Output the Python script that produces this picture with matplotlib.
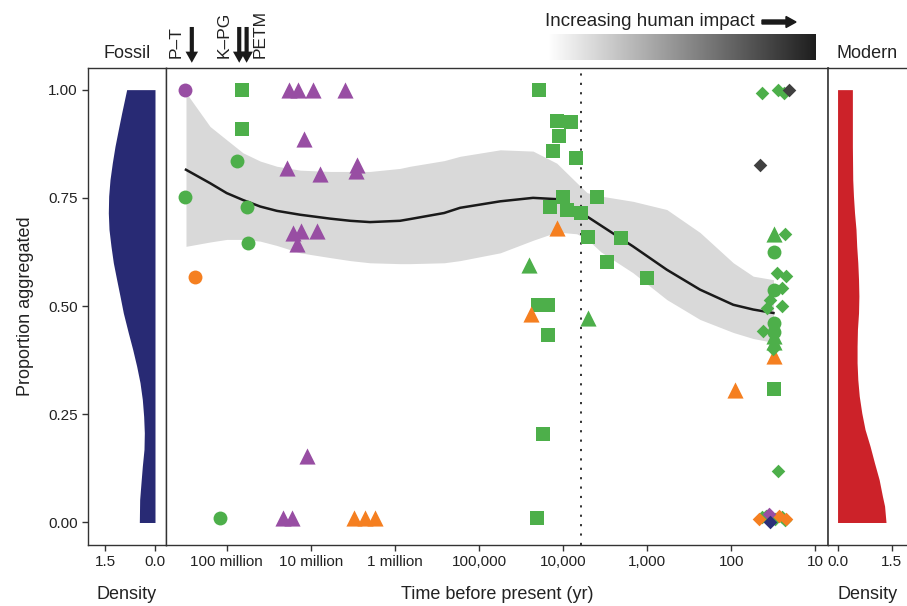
import numpy as np
import matplotlib.pyplot as plt
import matplotlib.transforms as mtransforms
from matplotlib.colors import LinearSegmentedColormap
from matplotlib.patches import FancyArrow

plt.rcParams['font.family'] = ['Liberation Sans', 'DejaVu Sans']

GREEN = '#4DAF4A'
PURPLE = '#984EA3'
ORANGE = '#F57F20'
DARK = '#404040'
NAVY = '#2B2F7A'
INK = '#222222'

# ---- data: (years before present, proportion aggregated) ----
circ_purple_t = [3.1e8]
circ_purple_y = [1.0]
circ_orange_t = [2.4e8]
circ_orange_y = [0.566]
circ_green_t = [3.1e8, 7.5e7, 5.7e7, 5.6e7, 1.2e8, 31, 31, 31, 31]
circ_green_y = [0.752, 0.834, 0.729, 0.646, 0.01, 0.626, 0.536, 0.461, 0.441]

sq_green_t = [6.6e7, 6.6e7, 19200, 11900, 8060, 11100, 13100, 6970, 9950, 3980,
              14200, 9060, 6080, 5010, 2030, 2990, 1000, 19800, 15200, 15000,
              17300, 20400, 31]
sq_green_y = [1.0, 0.908, 1.0, 0.927, 0.925, 0.894, 0.859, 0.842, 0.753, 0.753,
              0.729, 0.722, 0.715, 0.66, 0.657, 0.602, 0.565, 0.502, 0.502, 0.433,
              0.205, 0.01, 0.309]

tri_purple_t = [1.8e7, 1.41e7, 9.3e6, 3.9e6, 1.2e7, 1.94e7, 7.8e6, 2.85e6, 2.9e6,
                1.64e7, 1.31e7, 8.5e6, 1.47e7, 1.11e7, 2.16e7, 1.69e7]
tri_purple_y = [1.0, 1.0, 1.0, 1.0, 0.887, 0.818, 0.805, 0.826, 0.812,
                0.669, 0.673, 0.673, 0.644, 0.153, 0.01, 0.01]
tri_orange_t = [3.1e6, 2.27e6, 1.73e6, 11900, 24300, 90, 31]
tri_orange_y = [0.01, 0.01, 0.01, 0.68, 0.482, 0.306, 0.384]
tri_green_t = [25200, 5010, 31, 31, 31]
tri_green_y = [0.596, 0.473, 0.667, 0.43, 0.416]

dia_green_t = [43, 27.6, 23.6, 23, 28.8, 22.4, 25.1, 34.7, 25, 37.9, 41.7, 31.6, 27.6,
               43.5, 38.6, 30.5, 25.0, 23.3]
dia_green_y = [0.992, 1.0, 0.992, 0.667, 0.577, 0.570, 0.542, 0.515, 0.50, 0.496, 0.442,
               0.40, 0.12, 0.012, 0.014, 0.008, 0.012, 0.006]
dia_orange_t = [46.6, 26.9, 22.2]
dia_orange_y = [0.007, 0.016, 0.009]
dia_purple_t = [35.9]
dia_purple_y = [0.02]
dia_navy_t = [35.0]
dia_navy_y = [0.0]
dia_dark_t = [20.4, 46]
dia_dark_y = [1.0, 0.827]

# smoothed trend with confidence band
fit_t = [3.05e8, 1.58e8, 1e8, 6.4e7, 4.0e7, 2.54e7, 1.34e7, 5.9e6, 3.4e6, 1.98e6,
         8.7e5, 6.6e5, 2.6e5, 1.68e5, 5.6e4, 2.28e4, 1.19e4, 6.9e3, 5.2e3, 3.55e3,
         1.48e3, 586, 236, 95, 55, 31.6]
fit_y = [0.815, 0.784, 0.761, 0.745, 0.730, 0.720, 0.711, 0.702, 0.697, 0.694,
         0.697, 0.701, 0.715, 0.727, 0.742, 0.750, 0.747, 0.725, 0.707, 0.686,
         0.638, 0.584, 0.538, 0.503, 0.492, 0.484]
fit_hi = [0.993, 0.915, 0.884, 0.854, 0.835, 0.823, 0.814, 0.811, 0.811, 0.811,
          0.818, 0.823, 0.836, 0.846, 0.861, 0.858, 0.830, 0.785, 0.762, 0.754,
          0.742, 0.723, 0.670, 0.600, 0.569, 0.561]
fit_lo = [0.638, 0.648, 0.654, 0.654, 0.650, 0.640, 0.623, 0.612, 0.605, 0.600,
          0.598, 0.598, 0.600, 0.605, 0.623, 0.652, 0.671, 0.667, 0.655, 0.625,
          0.577, 0.515, 0.469, 0.439, 0.425, 0.416]

# density profiles
fossil_y = [1.0, 0.946, 0.908, 0.869, 0.831, 0.792, 0.754, 0.715, 0.677, 0.638,
            0.60, 0.561, 0.523, 0.484, 0.438, 0.40, 0.361, 0.323, 0.284, 0.245,
            0.207, 0.169, 0.130, 0.092, 0.053, 0.0]
fossil_d = [0.85, 1.00, 1.10, 1.20, 1.28, 1.35, 1.39, 1.40, 1.38, 1.32,
            1.25, 1.15, 1.05, 0.95, 0.80, 0.67, 0.55, 0.45, 0.38, 0.34,
            0.32, 0.33, 0.38, 0.42, 0.46, 0.47]
modern_y = [1.0, 0.946, 0.869, 0.792, 0.754, 0.715, 0.677, 0.638, 0.60, 0.561,
            0.523, 0.484, 0.446, 0.407, 0.369, 0.330, 0.292, 0.253, 0.215, 0.176,
            0.138, 0.099, 0.061, 0.038, 0.0]
modern_d = [0.41, 0.41, 0.41, 0.42, 0.44, 0.47, 0.51, 0.53, 0.56, 0.58,
            0.59, 0.58, 0.55, 0.54, 0.54, 0.56, 0.60, 0.67, 0.76, 0.90,
            1.02, 1.15, 1.24, 1.30, 1.34]

time_ticks = [1e8, 1e7, 1e6, 1e5, 1e4, 1e3, 1e2, 1e1]
time_labels = ['100 million', '10 million', '1 million', '100,000', '10,000',
               '1,000', '100', '10']
y_ticks = [0, 0.25, 0.5, 0.75, 1.0]
y_labels = ['0.00', '0.25', '0.50', '0.75', '1.00']
holocene_line = 6100
events = [('P\u2013T', 4.0e8), ('K\u2013PG', 1.08e8), ('PETM', 4.0e7)]
event_arrows = [2.6e8, 7.1e7, 5.8e7]

W, H = 907, 606
fig = plt.figure(figsize=(W / 100, H / 100), dpi=100)


def box(x0, y0, x1, y1):
    return [x0 / W, 1 - y1 / H, (x1 - x0) / W, (y1 - y0) / H]


ax_l = fig.add_axes(box(88, 68, 166, 545))
ax_m = fig.add_axes(box(166, 68, 828, 545))
ax_r = fig.add_axes(box(828, 68, 907, 545))

for ax in (ax_l, ax_m, ax_r):
    for s in ax.spines.values():
        s.set_color('#333333')
        s.set_linewidth(1.0)
    ax.tick_params(colors='#333333', labelcolor=INK, labelsize=11, length=4, width=1.0)
    ax.set_ylim(-0.052, 1.05)

# left: fossil density
ax_l.fill_betweenx(fossil_y, 0, fossil_d, color='#282A74', lw=0)
ax_l.set_xlim(2.01, -0.33)
ax_l.set_xticks([1.5, 0.0])
ax_l.set_xticklabels(['1.5', '0.0'])
ax_l.set_yticks(y_ticks)
ax_l.set_yticklabels(y_labels)
ax_l.set_ylabel('Proportion aggregated', fontsize=13, color=INK, labelpad=10)
ax_l.set_xlabel('Density', fontsize=13, color=INK, labelpad=12)
ax_l.set_title('Fossil', fontsize=13, color=INK, pad=7)

# right: modern density
ax_r.fill_betweenx(modern_y, 0, modern_d, color='#CC2229', lw=0)
ax_r.set_xlim(-0.264, 1.92)
ax_r.set_xticks([0.0, 1.5])
ax_r.set_xticklabels(['0.0', '1.5'])
ax_r.tick_params(left=False, labelleft=False)
ax_r.spines['right'].set_visible(False)
ax_r.spines['left'].set_linewidth(1.2)
ax_r.set_xlabel('Density', fontsize=13, color=INK, labelpad=12)
ax_r.set_title('Modern', fontsize=13, color=INK, pad=7)

# main panel
ax_m.set_xscale('log')
ax_m.set_xlim(5.27e8, 7.1)
ax_m.fill_between(fit_t, fit_lo, fit_hi, color='#D9D9D9', lw=0, zorder=1)
ax_m.plot(fit_t, fit_y, color='#1a1a1a', lw=1.8, zorder=2)
ax_m.axvline(holocene_line, color='#222222', lw=1.3, ls=(0, (1.2, 4)), zorder=1.5)

groups = [
    (circ_purple_t, circ_purple_y, 'o', PURPLE, 100),
    (circ_green_t, circ_green_y, 'o', GREEN, 100),
    (circ_orange_t, circ_orange_y, 'o', ORANGE, 100),
    (sq_green_t, sq_green_y, 's', GREEN, 110),
    (tri_purple_t, tri_purple_y, '^', PURPLE, 135),
    (tri_orange_t, tri_orange_y, '^', ORANGE, 135),
    (tri_green_t, tri_green_y, '^', GREEN, 135),
    (dia_green_t, dia_green_y, 'D', GREEN, 48),
    (dia_orange_t, dia_orange_y, 'D', ORANGE, 48),
    (dia_purple_t, dia_purple_y, 'D', PURPLE, 48),
    (dia_navy_t, dia_navy_y, 'D', NAVY, 48),
    (dia_dark_t, dia_dark_y, 'D', DARK, 48),
]
for t, y, m, c, s in groups:
    ax_m.scatter(t, y, marker=m, color=c, s=s, linewidths=0, zorder=3)

ax_m.set_xticks(time_ticks)
ax_m.set_xticklabels(time_labels)
ax_m.minorticks_off()
ax_m.tick_params(left=False, labelleft=False)
ax_m.set_yticks([])
ax_m.set_xlabel('Time before present (yr)', fontsize=13, color=INK, labelpad=12)

# extinction events above the main panel
trans = mtransforms.blended_transform_factory(ax_m.transData, ax_m.transAxes)
for name, tx in events:
    ax_m.text(tx, 1.021, name, transform=trans, rotation=90, ha='center', va='bottom',
              fontsize=12.5, color=INK, clip_on=False)
for ta in event_arrows:
    ax_m.annotate('', xy=(ta, 1.011), xytext=(ta, 1.086), xycoords=trans,
                  arrowprops=dict(facecolor='#1a1a1a', edgecolor='none', width=3,
                                  headwidth=9, headlength=8), annotation_clip=False)

# human impact gradient
ax_g = fig.add_axes(box(548, 34, 816, 60))
grad = np.linspace(0, 1, 256).reshape(1, -1)
cmap = LinearSegmentedColormap.from_list('impact', ['#ffffff', '#1e1e1e'])
ax_g.imshow(grad, aspect='auto', cmap=cmap, extent=[0, 1, 0, 1])
ax_g.set_axis_off()
fig.text(545 / W, 1 - 22 / H, 'Increasing human impact', fontsize=13.5, color=INK,
         ha='left', va='center')
fig.add_artist(FancyArrow(
    762 / W, 1 - 22 / H, 24 / W, 0, width=4 / H, head_width=11 / H, head_length=10 / W,
    length_includes_head=False, color='#1a1a1a', transform=fig.transFigure))

fig.savefig('out.png', dpi=100)
